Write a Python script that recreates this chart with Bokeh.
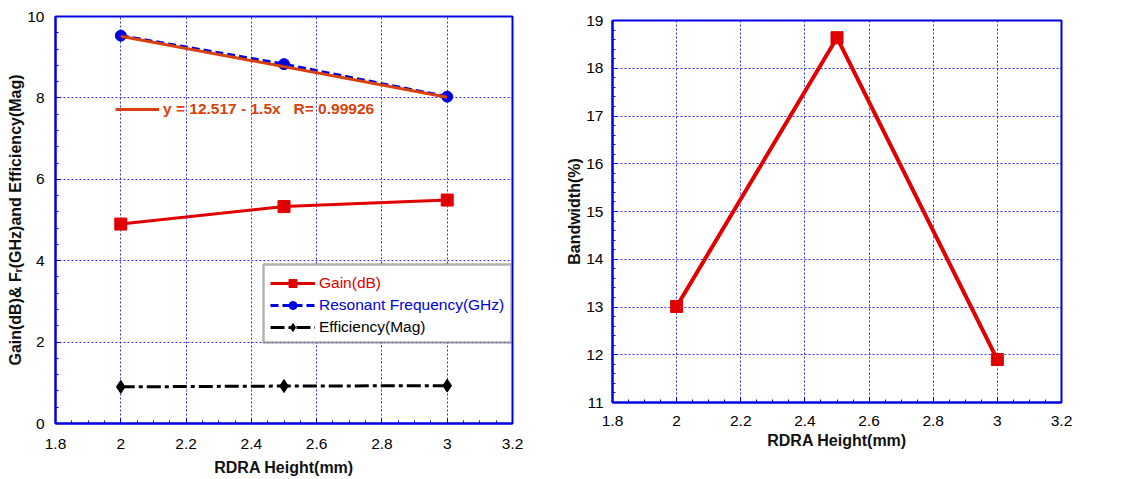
from bokeh.plotting import figure
from bokeh.layouts import row, column
from bokeh.models import Legend, LegendItem, FixedTicker, BoxAnnotation, Range1d
from bokeh.embed import file_html
from bokeh.resources import INLINE

# ---------------- data ----------------
height_mm = [2.0, 2.5, 3.0]
gain_db = [4.90, 5.33, 5.49]
res_freq_ghz = [9.53, 8.83, 8.03]
efficiency = [0.90, 0.92, 0.93]
bandwidth_pct = [13.01, 18.64, 11.90]

fit_intercept = 12.517
fit_slope = -1.5
fit_label = "y = 12.517 - 1.5x   R= 0.99926"

x_ticks = [1.8, 2.0, 2.2, 2.4, 2.6, 2.8, 3.0, 3.2]
x_tick_labels = ["1.8", "2", "2.2", "2.4", "2.6", "2.8", "3", "3.2"]
left_y_ticks = [0, 2, 4, 6, 8, 10]
right_y_ticks = [11, 12, 13, 14, 15, 16, 17, 18, 19]

FONT = "Liberation Sans"
BLUE = "#0000e0"
RED = "#e00000"
ORANGE = "#d8400c"
GRID = "#2020e8"


def style(p, yticks, x_std, x_title_std, y_std):
    p.x_range = Range1d(1.8, 3.2)
    p.y_range = Range1d(yticks[0], yticks[-1])
    p.xaxis.ticker = FixedTicker(ticks=x_ticks, minor_ticks=[round(1.8 + 0.05 * i, 3) for i in range(29)])
    p.xaxis.major_label_overrides = {t: l for t, l in zip(x_ticks, x_tick_labels)}
    step = yticks[1] - yticks[0]
    p.yaxis.ticker = FixedTicker(ticks=yticks,
                                 minor_ticks=[yticks[0] + step * i / 5 for i in range(5 * (len(yticks) - 1) + 1)])
    p.yaxis.major_label_overrides = {t: str(t) for t in yticks}
    for ax in (p.xaxis[0], p.yaxis[0]):
        ax.axis_line_color = BLUE
        ax.axis_line_width = 2
        ax.major_tick_in = 5
        ax.major_tick_out = 0
        ax.minor_tick_in = 3
        ax.minor_tick_out = 0
        ax.major_tick_line_color = BLUE
        ax.minor_tick_line_color = BLUE
        ax.major_label_text_font = FONT
        ax.major_label_text_font_size = "15.5px"
        ax.major_label_text_color = "black"
        ax.axis_label_text_font = FONT
        ax.axis_label_text_font_size = "16px"
        ax.axis_label_text_font_style = "bold"
        ax.axis_label_text_color = "#111111"
    p.xaxis.major_label_standoff = x_std
    p.yaxis.major_label_standoff = y_std
    p.xaxis.axis_label_standoff = x_title_std
    p.yaxis.axis_label_standoff = 0
    p.outline_line_color = BLUE
    p.outline_line_width = 2
    p.outline_line_alpha = 1
    p.grid.grid_line_color = GRID
    p.grid.grid_line_dash = "2 2"
    p.grid.grid_line_width = 1
    p.grid.grid_line_alpha = 0.9
    p.background_fill_color = "white"
    p.border_fill_color = "white"


# ---------------- left figure ----------------
p1 = figure(width=560, height=479, output_backend="svg", toolbar_location=None,
            min_border_left=55, min_border_right=48, min_border_top=16, min_border_bottom=56)
style(p1, left_y_ticks, 15, 7, 11)
p1.xaxis.axis_label = "RDRA Height(mm)"
p1.yaxis.axis_label = "Gain(dB)& F\u1d63(GHz)and Efficiency(Mag)"

g_line = p1.line(height_mm, gain_db, line_color=RED, line_width=3)
g_pts = p1.scatter(height_mm, gain_db, marker="square", size=12, fill_color=RED, line_color=RED)

r_line = p1.line(height_mm, res_freq_ghz, line_color=BLUE, line_width=3, line_dash="8 4")
r_pts = p1.scatter(height_mm, res_freq_ghz, marker="circle", size=11, fill_color=BLUE, line_color=BLUE)

fit_x = [height_mm[0], height_mm[-1]]
fit_y = [fit_intercept + fit_slope * x for x in fit_x]
fit_line = p1.line(fit_x, fit_y, line_color=ORANGE, line_width=3)

e_line = p1.line(height_mm, efficiency, line_color="black", line_width=3, line_dash="14 4 4 4")
e_pts = p1.scatter(height_mm, efficiency, marker="diamond", size=13, fill_color="black", line_color="black")

box = BoxAnnotation(left=208, right=456, bottom=81, top=159,
                    left_units="screen", right_units="screen", bottom_units="screen", top_units="screen",
                    fill_color="white", fill_alpha=1, line_color="black", line_width=2.5)
p1.add_layout(box)


def mk_legend(items, loc, color, bold=False, gw=45):
    lg = Legend(items=items, location=loc, padding=0, margin=0, spacing=0,
                border_line_alpha=0, background_fill_alpha=0,
                glyph_width=gw, glyph_height=20, label_height=20, label_standoff=4,
                label_text_font=FONT, label_text_font_size="15.5px", label_text_color=color,
                label_text_font_style="bold" if bold else "normal")
    return lg


p1.add_layout(mk_legend([LegendItem(label="Gain(dB)", renderers=[g_line, g_pts])], (215, 130), RED))
p1.add_layout(mk_legend([LegendItem(label="Resonant Frequency(GHz)", renderers=[r_line, r_pts])], (215, 108), BLUE))
p1.add_layout(mk_legend([LegendItem(label="Efficiency(Mag)", renderers=[e_line, e_pts])], (215, 86), "black"))
p1.add_layout(mk_legend([LegendItem(label=fit_label, renderers=[fit_line])], (60, 304), ORANGE, bold=True, gw=44))

# ---------------- right figure ----------------
p2 = figure(width=564, height=479, output_backend="svg", toolbar_location=None,
            min_border_left=52, min_border_right=63, min_border_top=20, min_border_bottom=77)
style(p2, right_y_ticks, 13, 3, 9)
p2.xaxis.axis_label = "RDRA Height(mm)"
p2.yaxis.axis_label = "Bandwidth(%)"
p2.line(height_mm, bandwidth_pct, line_color=RED, line_width=4)
p2.scatter(height_mm, bandwidth_pct, marker="square", size=12, fill_color=RED, line_color=RED)

layout = row(column(p1), column(p2), spacing=0)
open("out.html", "w").write(file_html(layout, INLINE))
